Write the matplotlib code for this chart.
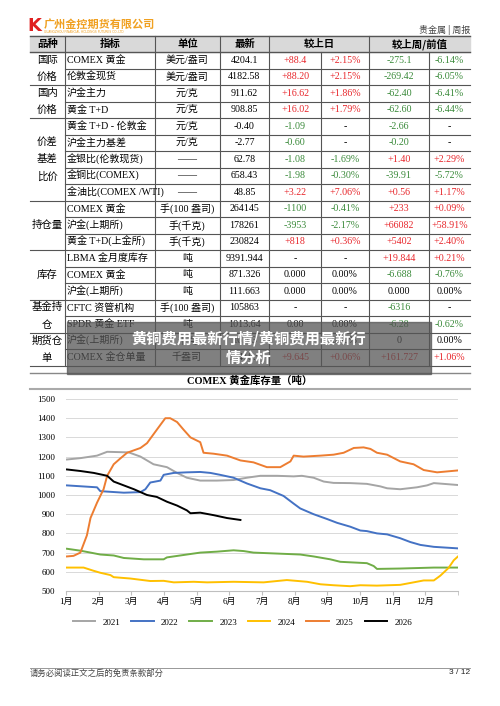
import matplotlib
matplotlib.use("Agg")
import matplotlib.pyplot as plt
from matplotlib.patches import Rectangle

FAM = ['Liberation Serif', 'Noto Sans CJK SC']
CJK = ['Noto Sans CJK SC', 'DejaVu Sans']
RED = '#e8262b'; GREEN = '#3a8a3a'

headers = ["品种", "指标", "单位", "最新", "较上日", "较上周/前值"]
groups = [("国际\n价格", 2), ("国内\n价格", 2), ("价差\n基差\n比价", 5), ("持仓量", 3),
          ("库存", 3), ("基金持\n仓", 2), ("期货仓\n单", 2)]
rows = [
    ["COMEX 黄金", "美元/盎司", "4204.1", "+88.4", "+2.15%", "-275.1", "-6.14%"],
    ["伦敦金现货", "美元/盎司", "4182.58", "+88.20", "+2.15%", "-269.42", "-6.05%"],
    ["沪金主力", "元/克", "911.62", "+16.62", "+1.86%", "-62.40", "-6.41%"],
    ["黄金 T+D", "元/克", "908.85", "+16.02", "+1.79%", "-62.60", "-6.44%"],
    ["黄金 T+D - 伦敦金", "元/克", "-0.40", "-1.09", "-", "-2.66", "-"],
    ["沪金主力基差", "元/克", "-2.77", "-0.60", "-", "-0.20", "-"],
    ["金银比(伦敦现货)", "——", "62.78", "-1.08", "-1.69%", "+1.40", "+2.29%"],
    ["金铜比(COMEX)", "——", "658.43", "-1.98", "-0.30%", "-39.91", "-5.72%"],
    ["金油比(COMEX /WTI)", "——", "48.85", "+3.22", "+7.06%", "+0.56", "+1.17%"],
    ["COMEX 黄金", "手(100 盎司)", "264145", "-1100", "-0.41%", "+233", "+0.09%"],
    ["沪金(上期所)", "手(千克)", "178261", "-3953", "-2.17%", "+66082", "+58.91%"],
    ["黄金 T+D(上金所)", "手(千克)", "230824", "+818", "+0.36%", "+5402", "+2.40%"],
    ["LBMA 金月度库存", "吨", "9391.944", "-", "-", "+19.844", "+0.21%"],
    ["COMEX 黄金", "吨", "871.326", "0.000", "0.00%", "-6.688", "-0.76%"],
    ["沪金(上期所)", "吨", "111.663", "0.000", "0.00%", "0.000", "0.00%"],
    ["CFTC 资管机构", "手(100 盎司)", "105863", "-", "-", "-6316", "-"],
    ["SPDR 黄金 ETF", "吨", "1013.64", "0.00", "0.00%", "-6.28", "-0.62%"],
    ["沪金(上期所)", "千克", "16763", "0", "0.00%", "0", "0.00%"],
    ["COMEX 金仓单量", "千盎司", "15418.9", "+9.645", "+0.06%", "+161.727", "+1.06%"],
]

months = ["1月", "2月", "3月", "4月", "5月", "6月", "7月", "8月", "9月", "10月", "11月", "12月"]
x2021 = [0.03, 0.44, 0.95, 1.26, 1.92, 2.28, 2.48, 2.68, 3.09, 3.40, 3.70, 4.11, 4.62, 5.13, 5.54, 5.95, 6.46, 6.97, 7.22, 7.58, 7.89, 8.19, 8.70, 9.21, 9.62, 9.83, 10.23, 10.74, 11.05, 11.26, 11.56, 12.0]
y2021 = [1185, 1192, 1205, 1225, 1222, 1200, 1180, 1160, 1145, 1115, 1090, 1075, 1075, 1078, 1090, 1100, 1100, 1097, 1100, 1090, 1070, 1063, 1062, 1058, 1045, 1035, 1030, 1040, 1050, 1062, 1058, 1052]
x2022 = [0.03, 0.95, 1.05, 1.77, 2.28, 2.43, 2.58, 2.89, 2.99, 3.30, 3.70, 4.11, 4.42, 4.72, 5.13, 5.54, 5.95, 6.25, 6.66, 6.97, 7.17, 7.58, 7.99, 8.30, 8.70, 9.01, 9.21, 9.52, 9.83, 10.23, 10.54, 10.85, 11.26, 12.0]
y2022 = [1050, 1040, 1020, 1012, 1015, 1030, 1065, 1075, 1105, 1115, 1118, 1120, 1115, 1105, 1090, 1060, 1035, 1025, 995, 955, 930, 900, 875, 855, 835, 815, 812, 800, 795, 775, 755, 740, 730, 722]
x2023 = [0.03, 0.44, 0.75, 1.05, 1.46, 1.77, 2.38, 2.99, 3.09, 3.70, 4.11, 4.62, 5.13, 5.44, 5.74, 6.46, 7.17, 7.58, 8.09, 8.40, 9.21, 9.42, 9.52, 10.23, 11.26, 12.0]
y2023 = [720, 710, 700, 690, 685, 672, 665, 665, 675, 690, 700, 705, 712, 708, 700, 695, 690, 680, 665, 652, 645, 630, 615, 617, 622, 622]
x2024 = [0.03, 0.54, 0.85, 1.05, 1.36, 1.46, 1.97, 2.58, 2.99, 3.30, 3.91, 4.32, 5.13, 6.05, 6.46, 6.76, 7.38, 7.79, 8.19, 8.70, 9.01, 9.52, 10.23, 10.64, 10.95, 11.26, 11.46, 11.71, 11.87, 12.0]
y2024 = [622, 622, 605, 595, 583, 572, 565, 552, 553, 545, 548, 545, 548, 545, 552, 557, 548, 535, 530, 525, 530, 528, 532, 545, 555, 555, 580, 620, 660, 680]
x2025 = [0.03, 0.23, 0.44, 0.64, 0.75, 0.95, 1.15, 1.26, 1.46, 1.66, 1.87, 2.28, 2.48, 2.78, 3.04, 3.19, 3.40, 3.60, 3.81, 4.11, 4.21, 4.52, 4.93, 5.34, 5.74, 6.15, 6.56, 6.87, 6.97, 7.27, 7.79, 8.19, 8.50, 8.81, 9.11, 9.32, 9.52, 9.83, 10.23, 10.64, 10.95, 11.36, 12.0]
y2025 = [680, 683, 700, 790, 880, 960, 1030, 1100, 1160, 1190, 1220, 1245, 1270, 1340, 1400, 1400, 1380, 1340, 1300, 1275, 1220, 1215, 1205, 1180, 1170, 1145, 1145, 1175, 1205, 1200, 1205, 1210, 1220, 1245, 1248, 1240, 1220, 1210, 1175, 1160, 1130, 1118, 1128]
x2026 = [0.03, 0.44, 0.85, 1.26, 1.46, 1.77, 2.08, 2.48, 2.78, 3.09, 3.40, 3.70, 3.81, 4.11, 4.52, 4.93, 5.34]
y2026 = [1133, 1125, 1115, 1100, 1070, 1050, 1030, 1000, 990, 965, 945, 920, 905, 908, 895, 880, 870]
series = [("2021", x2021, y2021, '#a5a5a5'), ("2022", x2022, y2022, '#4472c4'),
          ("2023", x2023, y2023, '#70ad47'), ("2024", x2024, y2024, '#ffc000'),
          ("2025", x2025, y2025, '#ed7d31'), ("2026", x2026, y2026, '#000000')]

W, H = 500, 706
fig = plt.figure(figsize=(5, 7.06), dpi=100)
bg = fig.add_axes([0, 0, 1, 1])
bg.set_xlim(0, W); bg.set_ylim(H, 0); bg.axis('off')

def txt(x, y, s, ha='center', size=7.2, color='black', fam=FAM, **kw):
    bg.text(x, y, s, ha=ha, va='center', fontsize=size, color=color, family=fam, **kw)

def hl(y, x0, x1, lw=0.8, c='#555555'):
    bg.plot([x0, x1], [y, y], color=c, lw=lw)

def vl(x, y0, y1, lw=0.8, c='#555555'):
    bg.plot([x, x], [y0, y1], color=c, lw=lw)

# logo + header
txt(34, 26, "K", ha='center', size=13, color='#e02020', fam=['DejaVu Sans'], weight='bold')
txt(44, 24, "广州金控期货有限公司", ha='left', size=8, color='#f0a020', fam=CJK, weight='bold')
txt(44, 32, "GUANGZHOU FINANCIAL HOLDINGS FUTURES CO.,LTD", ha='left', size=2.2, color='#f0a020', fam=['DejaVu Sans'])
txt(470, 30, "贵金属 | 周报", ha='right', size=6.5, color='#444444', fam=CJK)

cols = [30, 65, 155, 220, 269, 321, 369, 429, 470]
top, hb, rh = 36, 52, 16.5
bg.add_patch(Rectangle((cols[0], top), cols[-1] - cols[0], hb - top, color='#d9d9d9', zorder=0))
hl(top, cols[0], cols[-1], lw=1.0)
hl(hb, cols[0], cols[-1], lw=1.0)
hx = [(30, 65), (65, 155), (155, 220), (220, 269), (269, 369), (369, 470)]
for (a, b), h in zip(hx, headers):
    txt((a + b) / 2, (top + hb) / 2, h, size=7.5, fam=CJK, weight='bold')
for x in [65, 155, 220, 269, 369]:
    vl(x, top, hb)

def col_of(v):
    if v.startswith('+'):
        return RED
    if v.startswith('-') and len(v) > 1:
        return GREEN
    return 'black'

r = 0
for g, n in groups:
    y0 = hb + r * rh
    y1 = y0 + n * rh
    txt(47, (y0 + y1) / 2, g, size=7.5, fam=CJK, linespacing=1.9)
    hl(y1, cols[0], cols[-1])
    for i in range(n):
        row = rows[r + i]
        yc = y0 + (i + 0.5) * rh
        if i > 0:
            hl(y0 + i * rh, 65, cols[-1])
        txt(67, yc, row[0], ha='left', size=7.2)
        txt(187, yc, row[1], size=7.2)
        for j, v in enumerate(row[2:]):
            cx = (cols[3 + j] + cols[4 + j]) / 2
            txt(cx, yc, v, size=7.2, color='black' if j == 0 else col_of(v))
    r += n
tb = hb + r * rh
for x in cols[1:-1]:
    vl(x, hb, tb)

# overlay watermark
bg.add_patch(Rectangle((67, 322), 364, 52, color='#555555', alpha=0.75, zorder=5))
bg.text(249, 348, "黄铜费用最新行情/黄铜费用最新行\n情分析", ha='center', va='center', fontsize=11,
        color='white', family=CJK, weight='bold', zorder=6, linespacing=1.3)

# chart title
hl(373, 30, 470, lw=1.0, c='#888888')
hl(389, 30, 470, lw=1.5, c='#aaaaaa')
txt(250, 381, "COMEX 黄金库存量（吨）", size=7.5, weight='bold')

ax = fig.add_axes([66 / W, 1 - 591 / H, 392 / W, 192 / H])
for name, xs, ys, c in series:
    ax.plot(xs, ys, color=c, lw=1.4, label=name)
ax.set_xlim(0, 12); ax.set_ylim(500, 1500)
ax.set_yticks(range(500, 1501, 100))
ax.set_xticks(range(12))
ax.set_xticklabels(months, family=FAM, fontsize=6.5)
for t in ax.get_yticklabels():
    t.set_family(FAM); t.set_fontsize(6.5)
ax.grid(axis='y', color='#d9d9d9', lw=0.7)
for s in ['top', 'right', 'left']:
    ax.spines[s].set_visible(False)
ax.spines['bottom'].set_color('#bfbfbf')
ax.tick_params(axis='y', length=0, pad=8)
ax.tick_params(axis='x', length=3, color='#bfbfbf', pad=2)
ax.set_xticks([12], minor=True)
ax.tick_params(axis='x', which='minor', length=3, color='#bfbfbf')
leg = ax.legend(loc='upper center', bbox_to_anchor=(0.45, -0.1), ncol=6, frameon=False,
                fontsize=6.5, handlelength=2.5, columnspacing=1.2, prop={'family': FAM, 'size': 6.5})

# footer
hl(668, 30, 470, lw=0.6, c='#888888')
txt(30, 673, "请务必阅读正文之后的免责条款部分", ha='left', size=6, fam=CJK, color='#444444')
txt(470, 673, "3 / 12", ha='right', size=6, fam=['Liberation Sans'], color='#222222')

fig.savefig("out.png", dpi=100)
